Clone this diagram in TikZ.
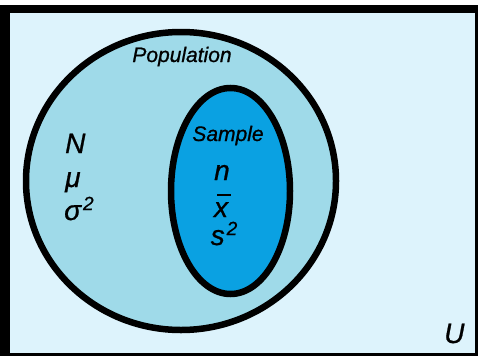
\documentclass[tikz,border=0pt]{standalone}
\usepackage{fontspec}
\setmainfont{Liberation Sans}[FakeBold=0.8]
\definecolor{bgblue}{HTML}{DDF3FC}
\definecolor{popblue}{HTML}{9FDAE9}
\definecolor{smpblue}{HTML}{0AA1E2}
\tikzset{
  small/.style={font=\fontsize{21}{24}\selectfont\itshape, inner sep=0pt},
  big/.style={font=\fontsize{28}{32}\selectfont\itshape, inner sep=0pt},
  setline/.style={line width=6.5pt, draw=black}
}
\newcommand{\supsq}{\hspace{2pt}\raisebox{10pt}{\fontsize{19}{20}\selectfont 2}}
\newcommand{\barx}{\makebox[0pt][l]{\hspace{3pt}\raisebox{21pt}{\rule{14pt}{2.2pt}}}x}
\begin{document}
\begin{tikzpicture}[x=1pt,y=-1pt]
\useasboundingbox (0,0) rectangle (478,356);
\fill[black] (0,5) rectangle (478,356);
\fill[bgblue] (10,13) rectangle (475,353);
\draw[setline, fill=popblue] (181,181) ellipse [x radius=155pt, y radius=149pt];
\draw[setline, fill=smpblue] (230.5,191) ellipse [x radius=59.5pt, y radius=103pt];
\node[small, anchor=base] (pop) at (182,62) {Population};
\node[small, anchor=base] (smp) at (228,141) {Sample};
\node[big, anchor=base west] (N) at (65,153) {N};
\node[big, anchor=base west] (mu) at (65,187) {μ};
\node[big, anchor=base west] (sig) at (64,220) {σ\supsq};
\node[big, anchor=base] (n) at (222,180) {n};
\node[big, anchor=base] (xbar) at (221,217) {\barx};
\node[big, anchor=base] (s2) at (224,245) {s\supsq};
\node[big, anchor=base west] (U) at (444,343) {U};
\end{tikzpicture}
\end{document}
